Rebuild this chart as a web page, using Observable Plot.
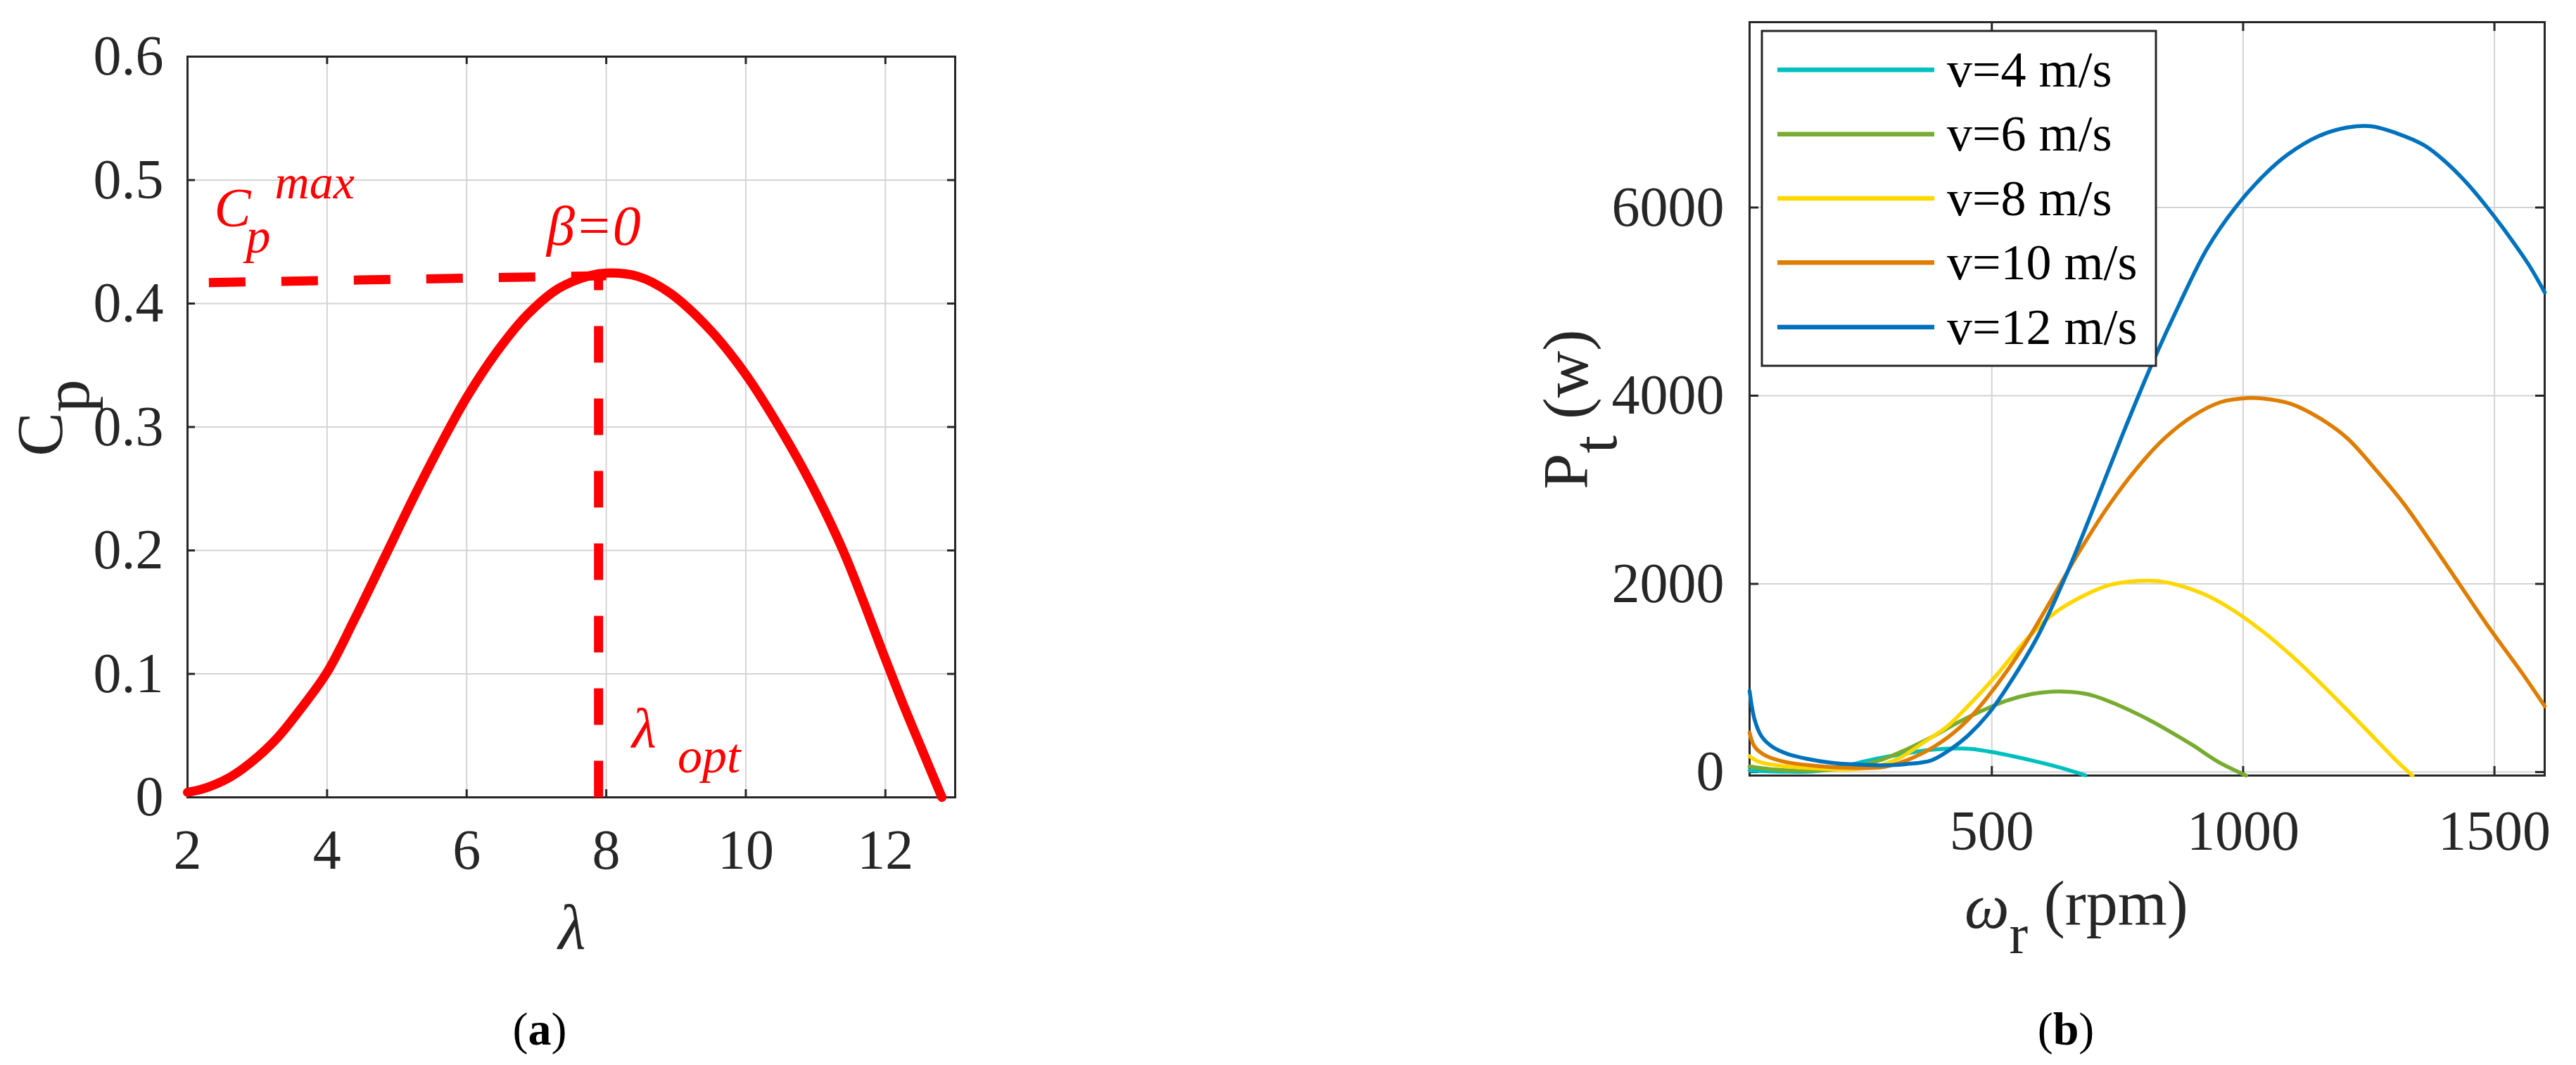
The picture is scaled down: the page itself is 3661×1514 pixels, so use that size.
<!DOCTYPE html>
<html><head><meta charset="utf-8">
<script src="https://cdn.jsdelivr.net/npm/d3@7"></script>
<script src="https://cdn.jsdelivr.net/npm/@observablehq/plot@0.6"></script>
<style>
html,body{margin:0;padding:0;background:#fff;}
#wrap{position:relative;width:3661px;height:1514px;background:#fff;overflow:hidden;}
#wrap svg{position:absolute;top:0;}
#wrap svg text, #wrap svg tspan{font-family:'Liberation Serif','Times New Roman',Times,serif !important;}
</style></head><body><div id="wrap"></div>
<script>
// ---------- Panel (a): Cp vs lambda ----------
const lambdaA = [2.0, 2.2, 2.4, 2.6, 2.8, 3.0, 3.3, 3.6, 4.0, 4.39, 4.84, 5.29, 5.74, 6.0, 6.42, 6.87, 7.32, 7.77, 8.0, 8.45, 8.9, 9.5, 10.0, 10.5, 10.93, 11.4, 12.0, 12.25, 12.5, 12.81];
const cpA = [0.004, 0.0065, 0.0105, 0.016, 0.0235, 0.0325, 0.049, 0.07, 0.1013, 0.1439, 0.1962, 0.2486, 0.2977, 0.3239, 0.3599, 0.391, 0.4123, 0.4227, 0.4247, 0.422, 0.409, 0.378, 0.3425, 0.298, 0.2545, 0.199, 0.112, 0.076, 0.042, 0];
const xTicksA = [2, 4, 6, 8, 10, 12];
const xTickLabelsA = ["2", "4", "6", "8", "10", "12"];
const yTicksA = [0, 0.1, 0.2, 0.3, 0.4, 0.5, 0.6];
const yTickLabelsA = ["0", "0.1", "0.2", "0.3", "0.4", "0.5", "0.6"];
const hDashX = [2.306, 8.0];
const hDashY = [0.417, 0.4225];
const vDashX = [7.89, 7.89];
const vDashY = [0, 0.4225];
const annCpMax = {x: 2.389, y: 0.4629};
const annBeta = {x: 7.152, y: 0.4475};
const annLopt = {x: 8.372, y: 0.0405};

// ---------- Panel (b): Pt vs omega ----------
const seriesNames = ["v=4 m/s", "v=6 m/s", "v=8 m/s", "v=10 m/s", "v=12 m/s"];
const seriesColors = ["#00BFBF", "#77AC30", "#FFD700", "#DE7D00", "#0072BD"];
const rpm4 = [18, 80, 150, 214, 260, 316, 360, 397, 430, 460, 500, 540, 580, 620, 650, 686];
const pow4 = [15, 5, 10, 73, 130, 185, 225, 243, 250, 245, 213, 170, 123, 70, 25, -35];
const rpm6 = [18, 60, 120, 180, 230, 280, 330, 380, 430, 480, 530, 580, 620, 660, 700, 750, 800, 850, 900, 950, 1006];
const pow6 = [60, 30, 15, 25, 60, 130, 240, 370, 520, 650, 760, 830, 855, 850, 815, 715, 590, 445, 285, 110, -37];
const rpm8 = [18, 35, 77, 146, 216, 270, 316, 367, 410, 453, 509, 565, 621, 676, 732, 788, 830, 872, 928, 983, 1039, 1095, 1151, 1207, 1262, 1304, 1337];
const pow8 = [170, 112, 68, 40, 28, 60, 148, 324, 480, 703, 1027, 1387, 1675, 1856, 1985, 2030, 2030, 1985, 1877, 1711, 1495, 1243, 960, 660, 357, 126, -37];
const rpm10 = [18, 28, 49, 91, 146, 216, 286, 342, 397, 453, 509, 565, 621, 676, 732, 788, 844, 900, 955, 1011, 1039, 1095, 1151, 1207, 1262, 1318, 1374, 1430, 1486, 1554, 1600];
const pow10 = [420, 270, 177, 105, 68, 45, 55, 150, 310, 558, 919, 1351, 1856, 2360, 2828, 3225, 3549, 3783, 3931, 3975, 3970, 3913, 3765, 3549, 3225, 2864, 2440, 2000, 1560, 1060, 700];
const rpm12 = [18, 28, 42, 63, 91, 132, 180, 230, 280, 330, 380, 420, 453, 495, 537, 593, 649, 704, 760, 816, 872, 928, 983, 1039, 1088, 1151, 1207, 1255, 1304, 1360, 1402, 1444, 1486, 1527, 1569, 1600];
const pow12 = [862, 558, 378, 270, 198, 141, 100, 80, 72, 85, 125, 250, 390, 631, 955, 1459, 2108, 2828, 3585, 4305, 4960, 5560, 5990, 6330, 6560, 6760, 6850, 6864, 6792, 6662, 6489, 6266, 5999, 5710, 5386, 5098];
const xTicksB = [500, 1000, 1500];
const xTickLabelsB = ["500", "1000", "1500"];
const yTicksB = [0, 2000, 4000, 6000];
const yTickLabelsB = ["0", "2000", "4000", "6000"];

const FONT = "'Liberation Serif', 'Times New Roman', Times, serif";
const INK = "#262626";
const GRID = "#d4d4d4";
const SVGSTYLE = `font-family: ${FONT}; color: ${INK}; background: white; overflow: visible;`;

function boxTicks(xt, yt, fw, fh, len) {
  const o = {stroke: INK, strokeWidth: 3};
  return [
    Plot.tickX(xt, {x: d => d, insetTop: fh - len, ...o}),
    Plot.tickX(xt, {x: d => d, insetBottom: fh - len, ...o}),
    Plot.tickY(yt, {y: d => d, insetRight: fw - len, ...o}),
    Plot.tickY(yt, {y: d => d, insetLeft: fw - len, ...o})
  ];
}

const wrap = document.getElementById("wrap");

// ----- chart A -----
const tableA = lambdaA.map((l, i) => ({l, cp: cpA[i]}));
const hDash = hDashX.map((x, i) => ({x, y: hDashY[i]}));
const vDash = vDashX.map((x, i) => ({x, y: vDashY[i]}));
const A = {left: 0, width: 1700, mL: 266, mR: 343, mT: 80, mB: 381};
const chartA = Plot.plot({
  width: A.width, height: 1514,
  marginLeft: A.mL, marginRight: A.mR, marginTop: A.mT, marginBottom: A.mB,
  style: SVGSTYLE,
  x: {domain: [2, 13]},
  y: {domain: [0, 0.6]},
  marks: [
    Plot.gridX(xTicksA, {stroke: GRID, strokeOpacity: 1, strokeWidth: 2}),
    Plot.gridY(yTicksA, {stroke: GRID, strokeOpacity: 1, strokeWidth: 2}),
    Plot.frame({stroke: INK, strokeWidth: 3}),
    ...boxTicks(xTicksA, yTicksA, 1091, 1053, 11),
    Plot.axisX(xTicksA, {tickSize: 0, tickPadding: 45, fontSize: 80, fontFamily: FONT, label: null, tickFormat: d => xTickLabelsA[xTicksA.indexOf(d)]}),
    Plot.axisY(yTicksA, {tickSize: 0, tickPadding: 34, fontSize: 80, fontFamily: FONT, label: null, tickFormat: d => yTickLabelsA[yTicksA.indexOf(d)]}),
    Plot.line(hDash, {x: "x", y: "y", stroke: "#FF0000", strokeWidth: 13, strokeDasharray: "52,51", strokeLinecap: "butt"}),
    Plot.line(vDash, {x: "x", y: "y", stroke: "#FF0000", strokeWidth: 13, strokeDasharray: "52,51", strokeLinecap: "butt"}),
    Plot.line(tableA, {x: "l", y: "cp", stroke: "#FF0000", strokeWidth: 13, curve: "catmull-rom", strokeLinecap: "round", strokeLinejoin: "round"})
  ]
});
chartA.style.left = A.left + "px";
wrap.appendChild(chartA);

// ----- chart B -----
const ys = [pow4, pow6, pow8, pow10, pow12];
const xs = [rpm4, rpm6, rpm8, rpm10, rpm12];
const tableB = seriesNames.flatMap((name, i) => xs[i].map((x, j) => ({name, x, y: ys[i][j]})));
const B = {left: 1900, width: 1761, mL: 586, mR: 45, mT: 31, mB: 412};
const chartB = Plot.plot({
  width: B.width, height: 1514,
  marginLeft: B.mL, marginRight: B.mR, marginTop: B.mT, marginBottom: B.mB,
  style: SVGSTYLE,
  x: {domain: [18, 1600]},
  y: {domain: [-37, 7970]},
  color: {domain: seriesNames, range: seriesColors},
  marks: [
    Plot.gridX(xTicksB, {stroke: GRID, strokeOpacity: 1, strokeWidth: 2}),
    Plot.gridY(yTicksB, {stroke: GRID, strokeOpacity: 1, strokeWidth: 2}),
    Plot.frame({stroke: INK, strokeWidth: 3}),
    ...boxTicks(xTicksB, yTicksB, 1130, 1071, 13),
    Plot.axisX(xTicksB, {tickSize: 0, tickPadding: 49, fontSize: 80, fontFamily: FONT, label: null, tickFormat: d => xTickLabelsB[xTicksB.indexOf(d)]}),
    Plot.axisY(yTicksB, {tickSize: 0, tickPadding: 36, fontSize: 80, fontFamily: FONT, label: null, tickFormat: d => yTickLabelsB[yTicksB.indexOf(d)]}),
    Plot.line(tableB, {x: "x", y: "y", z: "name", stroke: "name", strokeWidth: 5.5, curve: "catmull-rom", strokeLinejoin: "round"})
  ]
});
chartB.style.left = B.left + "px";
wrap.appendChild(chartB);

// ----- text decorations -----
const sA = d3.select(chartA);
const sx = chartA.scale("x"), sy = chartA.scale("y");

// y label Cp
{
  const t = sA.append("text").attr("transform", "translate(88,594) rotate(-90)")
    .attr("text-anchor", "middle").attr("font-size", 94).attr("fill", INK);
  t.append("tspan").text("C");
  t.append("tspan").attr("dy", "0.4em").text("p");
}
// x label lambda
sA.append("text").attr("x", 813).attr("y", 1349).attr("text-anchor", "middle")
  .attr("font-size", 90).attr("font-style", "italic").attr("fill", INK).text("λ");

// annotations
function redText(svg) {
  return svg.append("text").attr("fill", "#FF0000")
    .attr("font-style", "italic").attr("text-anchor", "start");
}
{
  const x0 = sx.apply(annCpMax.x), y0 = sy.apply(annCpMax.y);
  const t = redText(sA);
  t.append("tspan").attr("x", x0).attr("y", y0).attr("font-size", 78).text("C");
  t.append("tspan").attr("x", x0 + 45).attr("y", y0 + 38).attr("font-size", 70).text("p");
  t.append("tspan").attr("x", x0 + 86).attr("y", y0 - 39).attr("font-size", 68).text("max");
}
{
  const t = redText(sA).attr("font-size", 80);
  t.append("tspan").attr("x", sx.apply(annBeta.x)).attr("y", sy.apply(annBeta.y)).text("β=0");
}
{
  const x0 = sx.apply(annLopt.x), y0 = sy.apply(annLopt.y);
  const t = redText(sA);
  t.append("tspan").attr("x", x0).attr("y", y0).attr("font-size", 80).text("λ");
  t.append("tspan").attr("x", x0 + 65).attr("y", y0 + 36).attr("font-size", 70).text("opt");
}
// caption (a)
{
  const t = sA.append("text").attr("x", 767).attr("y", 1485).attr("text-anchor", "middle")
    .attr("font-size", 66).attr("fill", "#000");
  t.append("tspan").text("(");
  t.append("tspan").attr("font-weight", "bold").text("a");
  t.append("tspan").text(")");
}

const sB = d3.select(chartB);
// y label Pt (w)
{
  const t = sB.append("text").attr("transform", "translate(356,582) rotate(-90)")
    .attr("text-anchor", "middle").attr("font-size", 92).attr("fill", INK);
  t.append("tspan").text("P");
  t.append("tspan").attr("dy", "0.45em").text("t");
  t.append("tspan").attr("dy", "-0.45em").text(" (w)");
}
// x label omega_r (rpm)
{
  const t = sB.append("text").attr("x", 892).attr("y", 1319).attr("text-anchor", "start")
    .attr("font-size", 90).attr("fill", INK);
  t.append("tspan").attr("font-style", "italic").text("ω");
  t.append("tspan").attr("dy", "0.45em").attr("font-size", 80).text("r");
  t.append("tspan").attr("dy", "-0.45em").text(" (rpm)");
}
// caption (b)
{
  const t = sB.append("text").attr("x", 1036).attr("y", 1485).attr("text-anchor", "middle")
    .attr("font-size", 66).attr("fill", "#000");
  t.append("tspan").text("(");
  t.append("tspan").attr("font-weight", "bold").text("b");
  t.append("tspan").text(")");
}
// legend
{
  const g = sB.append("g");
  g.append("rect").attr("x", 604).attr("y", 44).attr("width", 560).attr("height", 476)
    .attr("fill", "white").attr("stroke", INK).attr("stroke-width", 3);
  const rowY = [99.3, 190.7, 282, 373.3, 465];
  seriesNames.forEach((name, i) => {
    g.append("line").attr("x1", 626).attr("x2", 849).attr("y1", rowY[i]).attr("y2", rowY[i])
      .attr("stroke", seriesColors[i]).attr("stroke-width", 6.5);
    g.append("text").attr("x", 867).attr("y", rowY[i]).attr("dy", "0.33em").attr("text-anchor", "start")
      .attr("font-size", 72).attr("fill", "#000").text(name);
  });
}
// force the serif face on every text node (axis tick labels included)
d3.selectAll("#wrap svg text").style("font-family", FONT);
</script>
</body></html>
